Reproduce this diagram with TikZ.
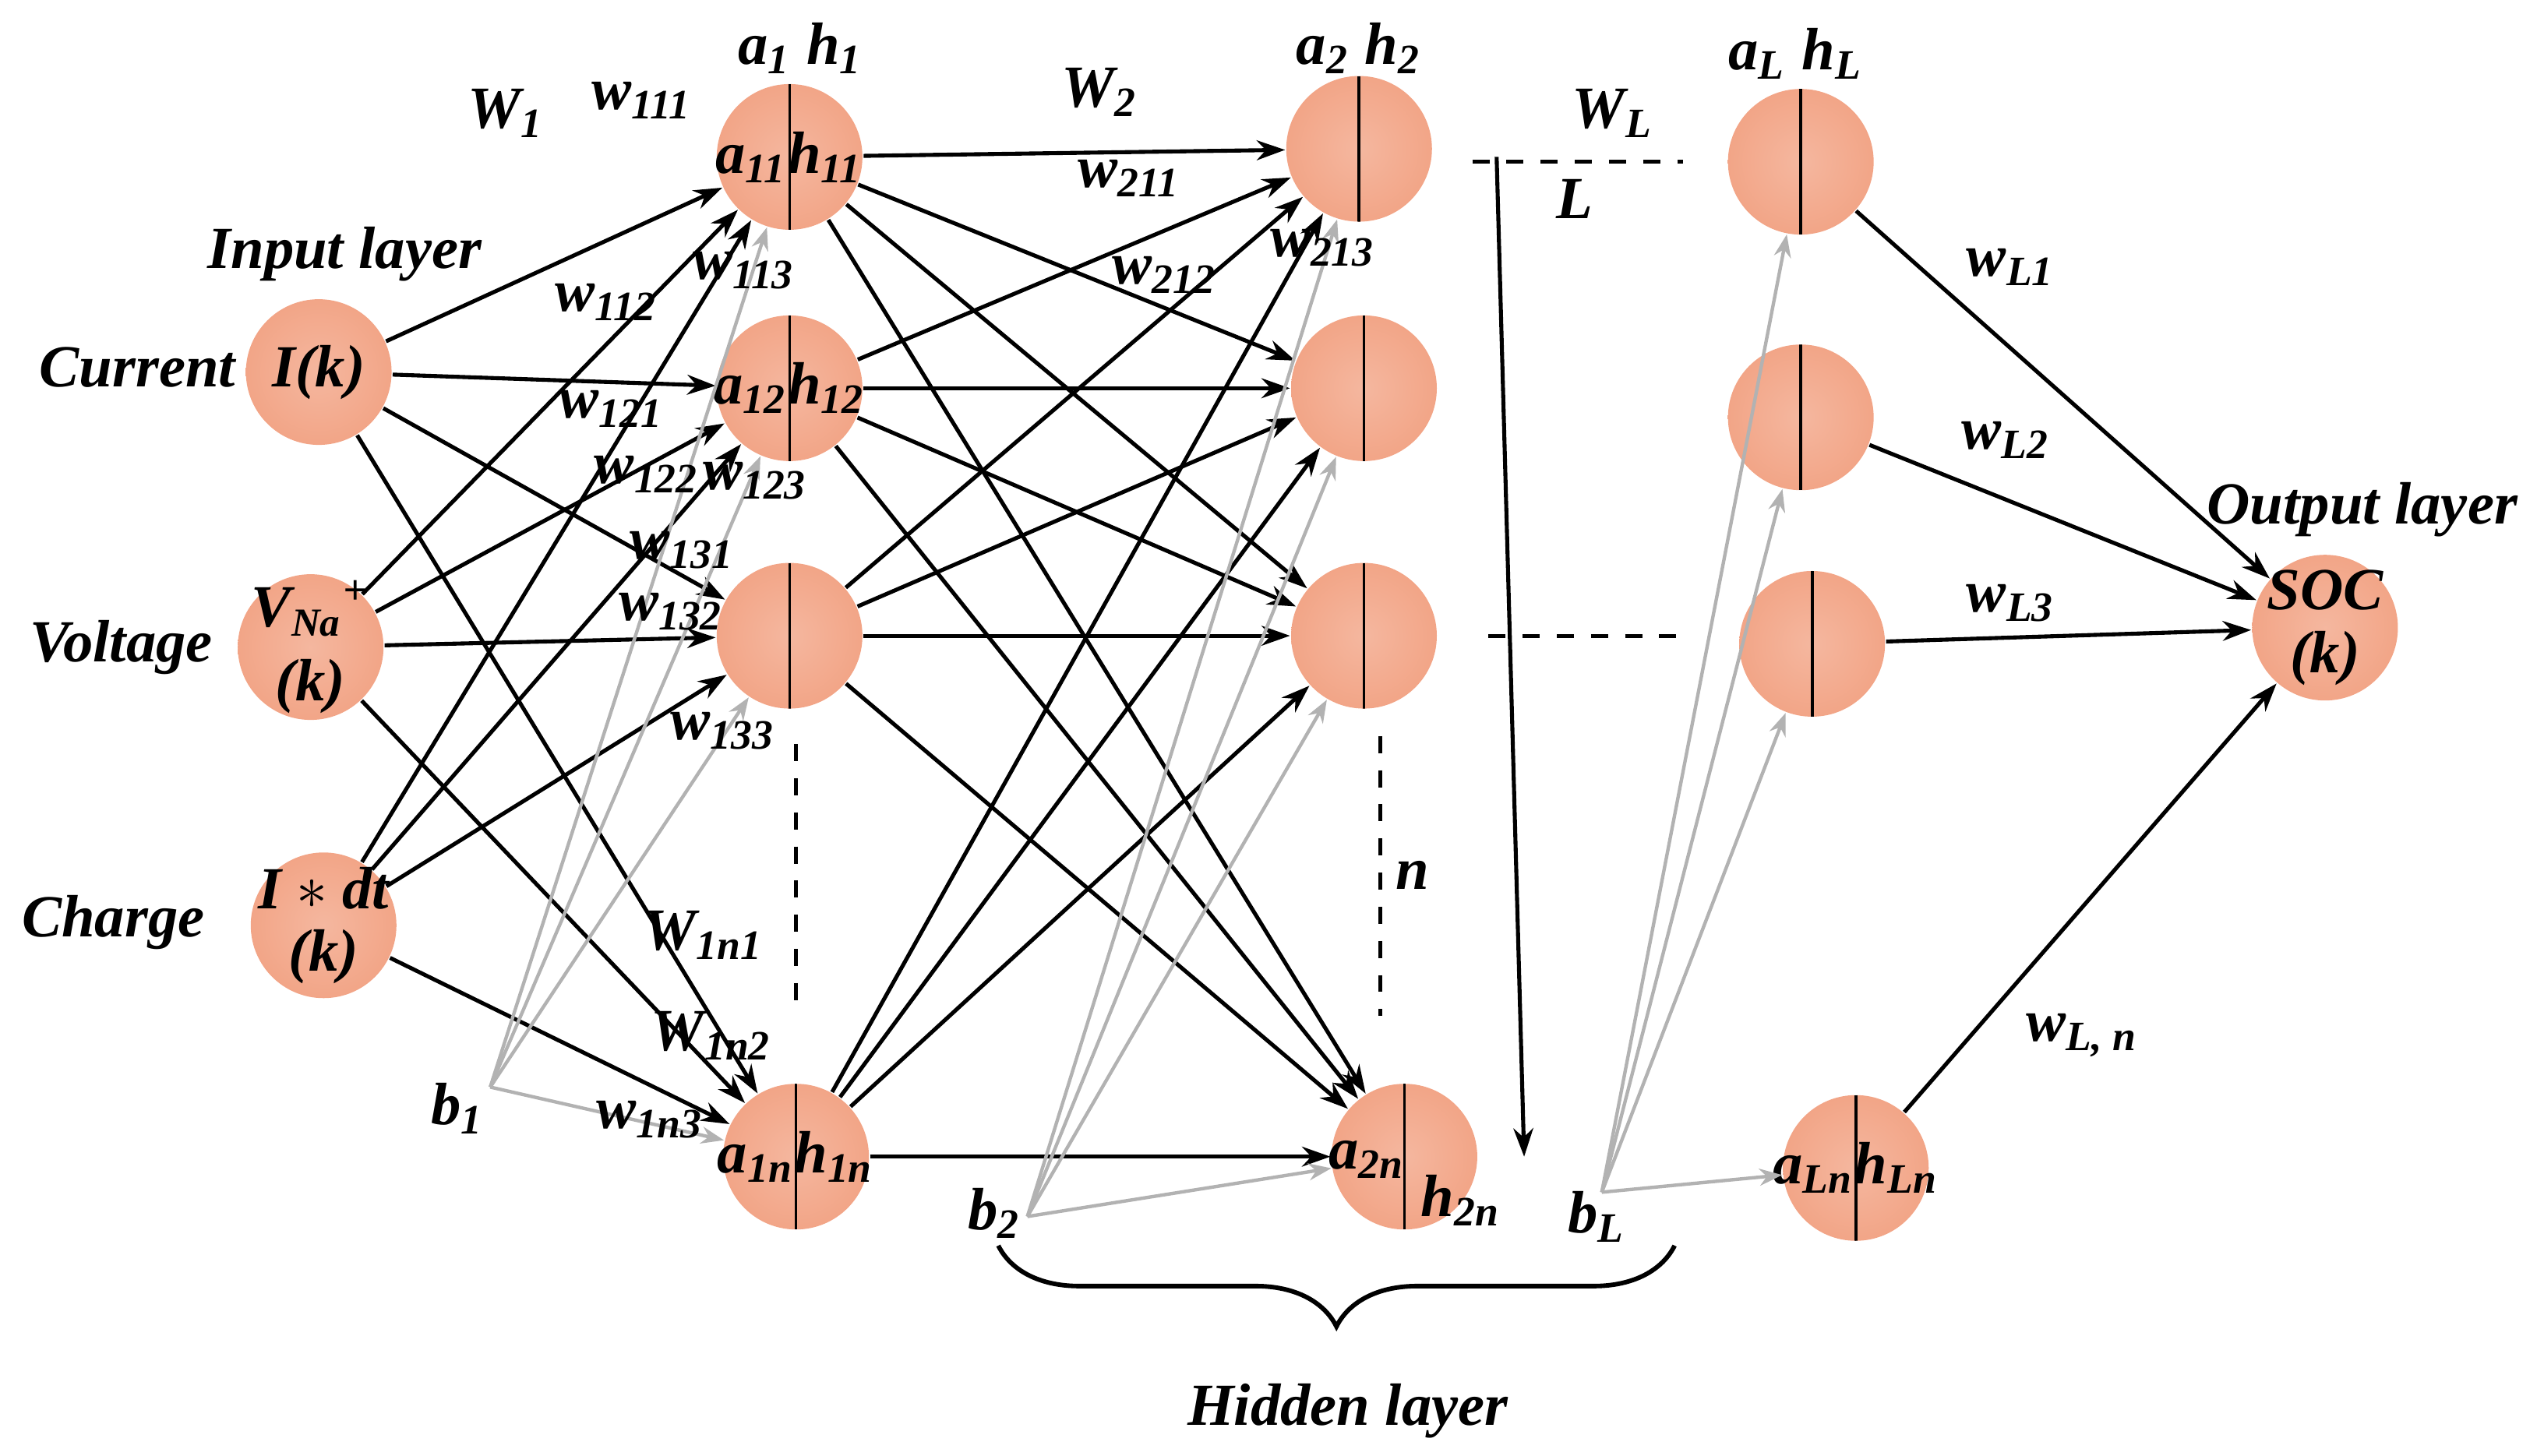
\documentclass[tikz,border=0pt]{standalone}
\usepackage{fontspec}
\setmainfont{Liberation Serif}
\usetikzlibrary{arrows.meta,decorations.pathreplacing}
\definecolor{nodefill}{RGB}{242,165,135}
\begin{document}
\begin{tikzpicture}[x=0.01cm,y=-0.01cm,
  font=\fontsize{10.5}{12}\selectfont\bfseries\itshape,
  neuron/.style={circle,minimum size=0.9cm,inner sep=-8pt,shading=radial,inner color=nodefill!80!white,outer color=nodefill},
  hid/.style={neuron,path picture={\draw[black,line width=0.5pt](path picture bounding box.north)--(path picture bounding box.south);}},
  conn/.style={black,line width=0.7pt,-{Stealth[length=5pt,width=3.5pt]}},
  bias/.style={gray!60,line width=0.6pt,-{Stealth[length=4pt,width=3pt]}},
  lbl/.style={inner sep=1pt}]
\useasboundingbox (0,0) rectangle (1568,900);
% nodes
\node[neuron] (i1) at (197,230) {\textit{I}(\textit{k})};
\node[neuron,align=center] (i2) at (192,400) {\textit{V}\textsubscript{\scriptsize\textit{Na}}\textsuperscript{+}\\[1pt](\textit{k})};
\node[neuron,align=center] (i3) at (200,572) {\textit{I} $\ast$ \textit{dt}\\[-1pt](\textit{k})};
\node[hid] (a1) at (488,97) {\textit{a}\textsubscript{11}\textit{h}\textsubscript{11}};
\node[hid] (a2) at (488,240) {\textit{a}\textsubscript{12}\textit{h}\textsubscript{12}};
\node[hid] (a3) at (488,393) {};
\node[hid] (an) at (492,715) {\textit{a}\textsubscript{1\textit{n}}\textit{h}\textsubscript{1\textit{n}}};
\node[hid] (c1) at (840,92) {};
\node[hid] (c2) at (843,240) {};
\node[hid] (c3) at (843,393) {};
\node[hid] (cn) at (868,715) {};
\node[lbl] at (845,717) {\textit{a}\textsubscript{2\textit{n}}};
\node[lbl] at (903,742) {\textit{h}\textsubscript{2\textit{n}}};
\node[hid] (l1) at (1113,100) {};
\node[hid] (l2) at (1113,258) {};
\node[hid] (l3) at (1120,398) {};
\node[hid] (ln) at (1147,722) {\textit{a}\textsubscript{\textit{Ln}}\textit{h}\textsubscript{\textit{Ln}}};
\node[neuron,align=center] (o) at (1437,388) {\textit{SOC}\\[-1pt](\textit{k})};
% connections
\foreach \s in {i1,i2,i3}{\foreach \t in {a1,a2,a3,an}{\draw[conn] (\s) -- (\t);}}
\foreach \s in {a1,a2,a3,an}{\foreach \t in {c1,c2,c3,cn}{\draw[conn] (\s) -- (\t);}}
\foreach \s in {l1,l2,l3,ln}{\draw[conn] (\s) -- (o);}
% biases
\coordinate (b1) at (303,672);
\coordinate (b2) at (635,752);
\coordinate (bL) at (990,737);
\foreach \t in {a1,a2,a3,an}{\draw[bias] (b1) -- (\t);}
\foreach \t in {c1,c2,c3,cn}{\draw[bias] (b2) -- (\t);}
\foreach \t in {l1,l2,l3,ln}{\draw[bias] (bL) -- (\t);}
\node[lbl] at (283,685) {\textit{b}\textsubscript{1}};
\node[lbl] at (615,750) {\textit{b}\textsubscript{2}};
\node[lbl] at (987,752) {\textit{b}\textsubscript{\textit{L}}};
% dashes
\coordinate (d1a) at (492,460); \coordinate (d1b) at (492,625);
\coordinate (d2a) at (853,455); \coordinate (d2b) at (853,628);
\coordinate (d3a) at (910,100); \coordinate (d3b) at (1040,100);
\coordinate (d4a) at (920,393); \coordinate (d4b) at (1040,393);
\draw[dashed,line width=0.7pt] (d1a) -- (d1b);
\draw[dashed,line width=0.7pt] (d2a) -- (d2b);
\draw[dashed,line width=0.7pt] (d3a) -- (d3b);
\draw[dashed,line width=0.7pt] (d4a) -- (d4b);
\coordinate (La) at (925,97); \coordinate (Lb) at (942,715);
\draw[conn] (La) -- (Lb);
\node[lbl] at (973,123) {\textit{L}};
\node[lbl] at (997,70) {\textit{W}\textsubscript{\textit{L}}};
\node[lbl] at (873,541) {\textit{n}};
% brace
\coordinate (br1) at (617,770); \coordinate (br2) at (1035,770);
\draw[decorate,decoration={brace,mirror,amplitude=0.5cm},line width=0.8pt] (br1) -- (br2);
\node[lbl] at (833,872) {Hidden layer};
% layer labels
\node[lbl] at (495,30) {\textit{a}\textsubscript{1} \textit{h}\textsubscript{1}};
\node[lbl] at (840,30) {\textit{a}\textsubscript{2} \textit{h}\textsubscript{2}};
\node[lbl] at (1110,33) {\textit{a}\textsubscript{\textit{L}} \textit{h}\textsubscript{L}};
\node[lbl] at (213,157) {Input layer};
\node[lbl] at (85,227) {Current};
\node[lbl] at (75,400) {Voltage};
\node[lbl] at (70,570) {Charge};
\node[lbl] at (1460,315) {Output layer};
% weight labels
\node[lbl] at (313,70) {\textit{W}\textsubscript{1}};
\node[lbl] at (397,62) {\textit{w}\textsubscript{111}};
\node[lbl] at (375,187) {\textit{w}\textsubscript{112}};
\node[lbl] at (460,167) {\textit{w}\textsubscript{113}};
\node[lbl] at (378,253) {\textit{w}\textsubscript{121}};
\node[lbl] at (400,293) {\textit{w}\textsubscript{122}};
\node[lbl] at (467,297) {\textit{w}\textsubscript{123}};
\node[lbl] at (422,340) {\textit{w}\textsubscript{131}};
\node[lbl] at (415,378) {\textit{w}\textsubscript{132}};
\node[lbl] at (447,452) {\textit{w}\textsubscript{133}};
\node[lbl] at (435,578) {\textit{W}\textsubscript{1\textit{n}1}};
\node[lbl] at (440,640) {\textit{W}\textsubscript{1\textit{n}2}};
\node[lbl] at (402,692) {\textit{w}\textsubscript{1\textit{n}3}};
\node[lbl] at (680,57) {\textit{W}\textsubscript{2}};
\node[lbl] at (698,110) {\textit{w}\textsubscript{211}};
\node[lbl] at (720,170) {\textit{w}\textsubscript{212}};
\node[lbl] at (818,153) {\textit{w}\textsubscript{213}};
\node[lbl] at (1243,165) {\textit{w}\textsubscript{\textit{L}1}};
\node[lbl] at (1240,272) {\textit{w}\textsubscript{\textit{L}2}};
\node[lbl] at (1243,373) {\textit{w}\textsubscript{\textit{L}3}};
\node[lbl] at (1287,640) {\textit{w}\textsubscript{\textit{L}, \textit{n}}};
\end{tikzpicture}
\end{document}
